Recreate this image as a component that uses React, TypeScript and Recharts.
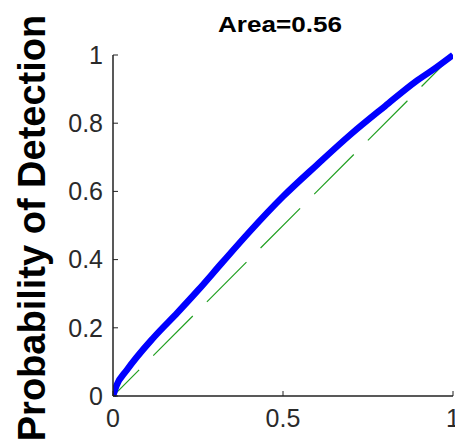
import { Line, LineChart, XAxis, YAxis } from "recharts";

// false alarm rate vs. detection rate
const falseAlarm = [0, 0.01, 0.04, 0.12, 0.19, 0.25, 0.32, 0.4, 0.5, 0.6, 0.7, 0.8, 0.89, 0.95, 1];
const detection = [0, 0.03, 0.075, 0.172, 0.245, 0.31, 0.39, 0.48, 0.585, 0.678, 0.768, 0.85, 0.922, 0.963, 1];
const chanceLine = [0, 1];

const xTicks = [0, 0.5, 1];
const yTicks = [0, 0.2, 0.4, 0.6, 0.8, 1];

const rocData = falseAlarm.map((x, i) => ({ x, y: detection[i] }));
const diagData = chanceLine.map((v) => ({ x: v, y: v }));

const FONT = '"Liberation Sans", Arial, sans-serif';
const AXIS = "#222";
const tickStyle = { fontSize: 25, fill: "#2a2a2a", fontFamily: FONT };

export default function App() {
  return (
    <div style={{ position: "absolute", left: 0, top: 0, background: "#fff" }}>
      <LineChart width={455} height={446} margin={{ top: 55, right: 2, bottom: 0, left: 0 }}>
        <XAxis
          dataKey="x"
          type="number"
          domain={[0, 1]}
          ticks={xTicks}
          interval={0}
          height={50}
          tickSize={-5}
          tickMargin={18}
          tick={tickStyle}
          axisLine={{ stroke: AXIS, strokeWidth: 1.5 }}
          tickLine={{ stroke: AXIS }}
          allowDataOverflow
        />
        <XAxis
          xAxisId="top"
          orientation="top"
          type="number"
          domain={[0, 1]}
          ticks={xTicks}
          interval={0}
          height={0}
          tickSize={-5}
          tick={false}
          axisLine={{ stroke: AXIS, strokeWidth: 1.5 }}
          tickLine={{ stroke: AXIS }}
        />
        <YAxis
          type="number"
          domain={[0, 1]}
          ticks={yTicks}
          interval={0}
          width={113}
          tickSize={-5}
          tickMargin={15}
          tick={tickStyle}
          axisLine={{ stroke: AXIS, strokeWidth: 1.5 }}
          tickLine={{ stroke: AXIS }}
        />
        <YAxis
          yAxisId="right"
          orientation="right"
          type="number"
          domain={[0, 1]}
          ticks={yTicks}
          interval={0}
          width={0}
          tickSize={-5}
          tick={false}
          axisLine={{ stroke: AXIS, strokeWidth: 1.5 }}
          tickLine={{ stroke: AXIS }}
        />
        <Line
          data={diagData}
          dataKey="y"
          stroke="#22a022"
          strokeWidth={1.2}
          strokeDasharray="56 20"
          strokeDashoffset={19}
          dot={false}
          isAnimationActive={false}
        />
        <Line
          data={rocData}
          type="monotone"
          dataKey="y"
          stroke="#0000ff"
          strokeWidth={6.5}
          strokeLinejoin="round"
          dot={false}
          isAnimationActive={false}
        />
        <text
          x={280}
          y={32}
          textAnchor="middle"
          fontFamily={FONT}
          fontWeight="bold"
          fontSize={22}
          textLength={124}
          lengthAdjust="spacingAndGlyphs"
          fill="#000"
        >
          Area=0.56
        </text>
        <text
          transform="translate(45,228) rotate(-90)"
          textAnchor="middle"
          fontFamily={FONT}
          fontWeight="bold"
          fontSize={38}
          fill="#000"
        >
          Probability of Detection
        </text>
      </LineChart>
    </div>
  );
}
